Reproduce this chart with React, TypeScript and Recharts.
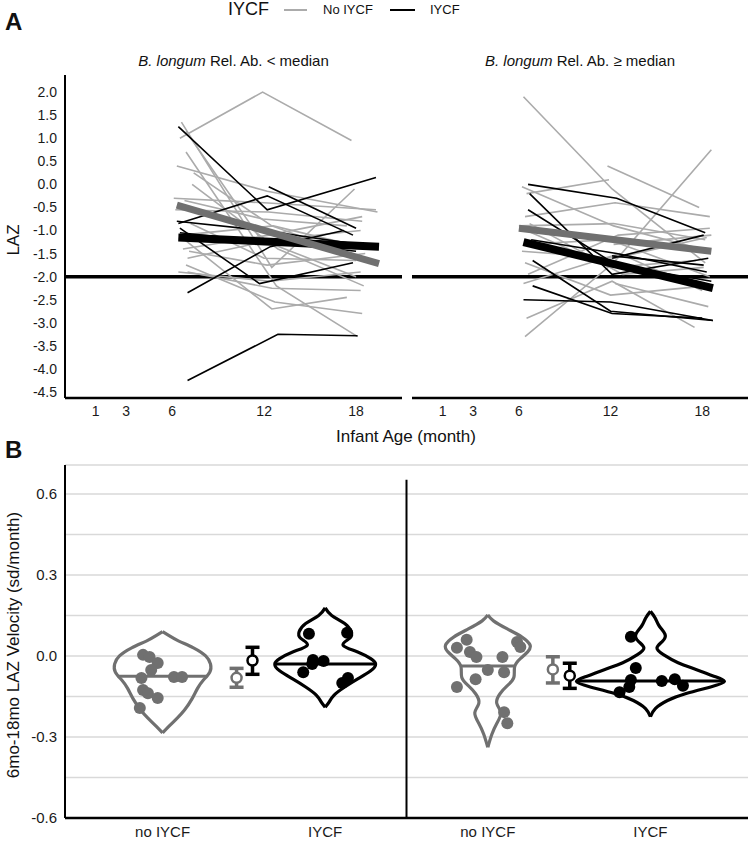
import { CartesianGrid, ComposedChart, ErrorBar, Line, LineChart, ReferenceLine, Scatter, XAxis, YAxis } from 'recharts'

type Pt = [number, number]

// ---- panel A: LAZ trajectories (month, LAZ) ----
const ageTicks = [1, 3, 6, 12, 18]
const lazTicks = [2, 1.5, 1, 0.5, 0, -0.5, -1, -1.5, -2, -2.5, -3, -3.5, -4, -4.5]

const lowNoIycf: Pt[][] = [
  [[6.5, 1.0], [11.9, 2.0], [17.7, 0.95]],
  [[6.6, 1.35], [12.5, -1.8], [17.9, -0.1]],
  [[6.3, 0.4], [12.2, -0.15], [19.4, -0.6]],
  [[6.1, -0.3], [12.0, -0.4], [19.3, -0.55]],
  [[7.4, 0.25], [12.5, -0.9], [17.5, -1.5]],
  [[6.9, 1.15], [11.8, -1.2], [18.0, -2.0]],
  [[6.2, -0.55], [12.3, -0.6], [18.4, -0.8]],
  [[6.7, -1.4], [12.3, -1.1], [18.4, -0.7]],
  [[7.0, -1.6], [12.6, -1.2], [18.3, -1.0]],
  [[6.4, -1.9], [12.4, -2.1], [18.3, -1.9]],
  [[7.0, -1.9], [12.5, -2.25], [18.3, -2.3]],
  [[6.8, -1.2], [12.5, -2.7], [17.4, -2.45]],
  [[6.9, 0.7], [12.8, -2.2], [18.1, -3.3]],
  [[7.2, -0.85], [12.0, -1.6], [18.0, -1.65]],
  [[6.6, -1.1], [12.6, -0.9], [18.2, -1.35]],
  [[7.3, 0.0], [12.9, -1.4], [18.5, -2.2]],
  [[6.8, -0.35], [11.9, -0.75], [17.4, -0.9]],
  [[7.1, -1.45], [12.2, -1.75], [18.6, -1.5]],
  [[6.9, -1.75], [12.7, -2.55], [18.4, -2.8]],
]
const lowIycf: Pt[][] = [
  [[6.4, 1.25], [12.2, -0.55], [19.3, 0.15]],
  [[6.4, -0.85], [12.2, -0.25], [17.8, -1.1]],
  [[12.3, -0.05], [18.0, -0.95]],
  [[6.3, -0.8], [12.0, -1.0], [18.1, -1.3]],
  [[6.5, -0.95], [11.7, -2.15], [17.8, -1.7]],
  [[7.0, -2.35], [12.4, -1.35], [17.2, -1.0]],
  [[7.0, -4.25], [12.9, -3.25], [18.1, -3.28]],
  [[6.5, -1.05], [12.4, -1.25], [18.0, -1.45]],
]
const lowFitNoIycf: Pt[] = [[6.3, -0.45], [19.5, -1.72]]
const lowFitIycf: Pt[] = [[6.4, -1.15], [19.5, -1.35]]

const highNoIycf: Pt[][] = [
  [[6.3, 1.9], [12.1, -0.1], [18.2, -1.7]],
  [[11.8, 0.4], [17.8, -0.5]],
  [[6.4, -3.3], [12.2, -1.7], [18.6, 0.75]],
  [[6.5, -0.2], [11.9, 0.1]],
  [[6.2, -0.05], [12.2, -0.9], [18.5, -1.45]],
  [[6.4, -0.7], [12.3, -0.4], [18.5, -0.7]],
  [[6.0, -0.9], [12.2, -0.85], [18.2, -1.2]],
  [[6.5, -1.0], [12.0, -1.8], [17.6, -1.65]],
  [[6.2, -1.45], [12.3, -1.6], [18.3, -1.15]],
  [[6.3, -1.3], [11.9, -1.2], [18.5, -2.0]],
  [[6.5, -2.9], [12.1, -2.1], [17.5, -3.1]],
  [[12.3, -2.15], [18.4, -2.65]],
  [[6.3, -2.15], [12.6, -1.5], [18.0, -2.3]],
  [[6.7, -0.85], [12.8, -1.95], [18.1, -1.8]],
  [[6.4, -1.7], [12.0, -2.4], [18.3, -2.2]],
  [[12.2, -1.3], [18.6, -1.1]],
  [[6.6, -1.95], [12.5, -1.1], [18.5, -0.95]],
]
const highIycf: Pt[][] = [
  [[6.6, 0.0], [12.4, -0.3], [18.2, -1.05]],
  [[6.7, -0.2], [12.1, -1.95], [18.4, -1.6]],
  [[6.6, -0.55], [12.4, -1.75], [18.6, -2.1]],
  [[6.9, -1.65], [12.0, -2.75], [18.7, -2.95]],
  [[6.9, -2.2], [12.1, -2.8], [18.0, -2.9]],
  [[6.3, -2.5], [12.0, -2.55], [18.7, -2.95]],
  [[12.1, -1.6], [18.1, -1.1]],
  [[12.1, -1.55], [18.1, -1.75]],
  [[6.8, -1.2], [12.4, -1.5], [18.3, -1.9]],
]
const highFitNoIycf: Pt[] = [[6.0, -0.95], [18.6, -1.45]]
const highFitIycf: Pt[] = [[6.3, -1.25], [18.7, -2.25]]

// ---- panel B: velocity violins ----
const groupLabels = ['no IYCF', 'IYCF', 'no IYCF', 'IYCF']
const velocityTicks = [-0.6, -0.45, -0.3, -0.15, 0, 0.15, 0.3, 0.45, 0.6]

// [velocity, half width in group units]
const violinLowNoIycf: Pt[] = [
  [0.09, 0], [0.075, 0.04], [0.055, 0.1], [0.03, 0.19], [0.0, 0.265], [-0.03, 0.295], [-0.06, 0.29],
  [-0.09, 0.25], [-0.12, 0.215], [-0.16, 0.18], [-0.2, 0.135], [-0.23, 0.09], [-0.26, 0.04], [-0.285, 0],
]
const violinLowIycf: Pt[] = [
  [0.178, 0], [0.15, 0.04], [0.12, 0.12], [0.09, 0.16], [0.065, 0.15], [0.04, 0.11], [0.015, 0.2],
  [-0.01, 0.28], [-0.03, 0.31], [-0.055, 0.28], [-0.085, 0.2], [-0.115, 0.12], [-0.145, 0.055],
  [-0.17, 0.025], [-0.19, 0],
]
const violinHighNoIycf: Pt[] = [
  [0.152, 0], [0.13, 0.035], [0.1, 0.12], [0.07, 0.21], [0.04, 0.26], [0.015, 0.245], [-0.01, 0.2],
  [-0.04, 0.165], [-0.08, 0.16], [-0.11, 0.12], [-0.14, 0.075], [-0.175, 0.055], [-0.21, 0.08],
  [-0.25, 0.055], [-0.29, 0.025], [-0.338, 0],
]
const violinHighIycf: Pt[] = [
  [0.165, 0], [0.14, 0.03], [0.11, 0.055], [0.08, 0.09], [0.055, 0.075], [0.03, 0.04], [0.005, 0.08],
  [-0.025, 0.17], [-0.05, 0.28], [-0.075, 0.39], [-0.095, 0.455], [-0.115, 0.37], [-0.14, 0.215],
  [-0.165, 0.105], [-0.195, 0.03], [-0.225, 0],
]
const medians = [-0.075, -0.03, -0.037, -0.093]
const medianHalfWidths = [0.27, 0.31, 0.165, 0.455]

// [offset from group centre, velocity]
const dotsLowNoIycf: Pt[] = [
  [-0.12, 0.004], [-0.08, -0.004], [-0.03, -0.026], [-0.07, -0.052], [-0.13, -0.082], [0.07, -0.078],
  [0.12, -0.078], [-0.12, -0.126], [-0.09, -0.138], [-0.03, -0.156], [-0.14, -0.193],
]
const dotsLowIycf: Pt[] = [
  [-0.1, 0.082], [0.135, 0.086], [-0.075, -0.015], [-0.01, -0.019], [-0.08, -0.03], [-0.135, -0.06],
  [0.14, -0.082], [0.105, -0.1],
]
const dotsHighNoIycf: Pt[] = [
  [-0.13, 0.06], [-0.19, 0.03], [0.18, 0.052], [0.2, 0.033], [-0.11, 0.015], [-0.07, -0.004],
  [0.09, -0.004], [0.0, -0.052], [0.1, -0.06], [-0.075, -0.086], [-0.19, -0.115], [0.1, -0.208],
  [0.12, -0.249],
]
const dotsHighIycf: Pt[] = [
  [-0.12, 0.071], [-0.09, -0.045], [-0.12, -0.089], [-0.13, -0.115], [-0.19, -0.134], [0.07, -0.093],
  [0.15, -0.086], [0.2, -0.11],
]

// mean and CI markers
const meanPos = [1.455, 1.553, 3.4, 3.504]
const means = [-0.081, -0.017, -0.05, -0.073]
const ciLow = [-0.116, -0.068, -0.1, -0.12]
const ciHigh = [-0.046, 0.032, -0.003, -0.027]

const GREY_LINE = '#ababab'
const GREY_DARK = '#707070'
const FONT = '"Liberation Sans", Arial, Helvetica, sans-serif'
const TICK = { fill: '#1a1a1a', fontSize: 14, fontFamily: FONT }

const rows = (s: Pt[]) => s.map(([month, laz]) => ({ month, laz }))

function TrajectoryPanel({
  noIycf,
  iycf,
  fitNo,
  fitYes,
  width,
  left,
  showTicks,
}: {
  noIycf: Pt[][]
  iycf: Pt[][]
  fitNo: Pt[]
  fitYes: Pt[]
  width: number
  left: number
  showTicks: boolean
}) {
  return (
    <LineChart width={width} height={440} margin={{ top: 75, right: showTicks ? 0 : 2, bottom: 12, left }}>
      <XAxis
        type="number"
        dataKey="month"
        domain={[-1, 21]}
        ticks={ageTicks}
        allowDataOverflow
        height={30}
        tickLine={false}
        axisLine={{ stroke: '#000', strokeWidth: 2.5 }}
        tick={TICK}
      />
      <YAxis
        type="number"
        domain={[-4.63, 2.37]}
        ticks={lazTicks}
        allowDataOverflow
        width={showTicks ? 45 : 0}
        tick={showTicks ? TICK : false}
        tickLine={false}
        tickFormatter={(v: number) => v.toFixed(1)}
        axisLine={{ stroke: '#000', strokeWidth: 2 }}
      />
      <ReferenceLine y={-2} stroke="#000" strokeWidth={3.5} />
      {noIycf.map((s, i) => (
        <Line
          key={'n' + i}
          data={rows(s)}
          dataKey="laz"
          stroke={GREY_LINE}
          strokeWidth={1.6}
          dot={false}
          isAnimationActive={false}
        />
      ))}
      {iycf.map((s, i) => (
        <Line
          key={'y' + i}
          data={rows(s)}
          dataKey="laz"
          stroke="#000"
          strokeWidth={1.6}
          dot={false}
          isAnimationActive={false}
        />
      ))}
      <Line data={rows(fitYes)} dataKey="laz" stroke="#000" strokeWidth={8} dot={false} isAnimationActive={false} />
      <Line data={rows(fitNo)} dataKey="laz" stroke={GREY_DARK} strokeWidth={7} dot={false} isAnimationActive={false} />
    </LineChart>
  )
}

const noShape = () => <g />

export default function App() {
  const violins = [
    { centre: 1, profile: violinLowNoIycf, dots: dotsLowNoIycf, color: GREY_DARK },
    { centre: 2, profile: violinLowIycf, dots: dotsLowIycf, color: '#000' },
    { centre: 3, profile: violinHighNoIycf, dots: dotsHighNoIycf, color: GREY_DARK },
    { centre: 4, profile: violinHighIycf, dots: dotsHighIycf, color: '#000' },
  ]
  const meanColors = [GREY_DARK, '#000', GREY_DARK, '#000']

  return (
    <div style={{ position: 'absolute', left: 0, top: 0, width: 750, height: 842, fontFamily: FONT, color: '#111' }}>
      {/* panel letters and legend */}
      <div style={{ position: 'absolute', left: 5, top: 8, fontSize: 24, fontWeight: 'bold' }}>A</div>
      <div style={{ position: 'absolute', left: 5, top: 436, fontSize: 24, fontWeight: 'bold' }}>B</div>
      <div style={{ position: 'absolute', left: 228, top: -1, fontSize: 18 }}>IYCF</div>
      <div style={{ position: 'absolute', left: 284, top: 9, width: 23, height: 2, background: GREY_LINE }} />
      <div style={{ position: 'absolute', left: 323, top: 2, fontSize: 13 }}>No IYCF</div>
      <div style={{ position: 'absolute', left: 390, top: 9, width: 25, height: 2, background: '#000' }} />
      <div style={{ position: 'absolute', left: 430, top: 2, fontSize: 13 }}>IYCF</div>

      <div style={{ position: 'absolute', left: 65, width: 337, top: 52, fontSize: 15, textAlign: 'center' }}>
        <i>B. longum</i> Rel. Ab. &lt; median
      </div>
      <div style={{ position: 'absolute', left: 412, width: 336, top: 52, fontSize: 15, textAlign: 'center' }}>
        <i>B. longum</i> Rel. Ab. ≥ median
      </div>

      <div style={{ position: 'absolute', left: 0, top: 0 }}>
        <TrajectoryPanel noIycf={lowNoIycf} iycf={lowIycf} fitNo={lowFitNoIycf} fitYes={lowFitIycf} width={402} left={20} showTicks />
      </div>
      <div style={{ position: 'absolute', left: 402, top: 0 }}>
        <TrajectoryPanel noIycf={highNoIycf} iycf={highIycf} fitNo={highFitNoIycf} fitYes={highFitIycf} width={348} left={10} showTicks={false} />
      </div>

      <div
        style={{
          position: 'absolute',
          left: 14,
          top: 240,
          fontSize: 17,
          transform: 'translate(-50%, -50%) rotate(-90deg)',
          whiteSpace: 'nowrap',
        }}
      >
        LAZ
      </div>
      <div style={{ position: 'absolute', left: 406, top: 437, fontSize: 17, transform: 'translate(-50%, -50%)', whiteSpace: 'nowrap' }}>
        Infant Age (month)
      </div>

      {/* panel B */}
      <div style={{ position: 'absolute', left: 0, top: 440 }}>
        <ComposedChart width={750} height={402} margin={{ top: 25, right: 2, bottom: 0, left: 15 }}>
          <CartesianGrid vertical={false} stroke="#d9d9d9" strokeWidth={1.5} />
          <XAxis
            type="number"
            dataKey="x"
            domain={[0.4, 4.6]}
            ticks={[1, 2, 3, 4]}
            allowDataOverflow
            height={24}
            tickLine={false}
            axisLine={{ stroke: '#000', strokeWidth: 2.5 }}
            tick={{ ...TICK, fontSize: 15 }}
            tickFormatter={(v: number) => groupLabels[Math.round(v) - 1] ?? ''}
          />
          <YAxis
            type="number"
            dataKey="y"
            domain={[-0.6, 0.707]}
            ticks={velocityTicks}
            allowDataOverflow
            width={50}
            tickLine={false}
            axisLine={{ stroke: '#000', strokeWidth: 2 }}
            tick={{ ...TICK, fontSize: 15 }}
            tickFormatter={(v: number) => (Math.abs(Math.round(v / 0.3) * 0.3 - v) < 1e-6 ? v.toFixed(1) : '')}
          />
          <ReferenceLine
            segment={[
              { x: 2.5, y: 0.652 },
              { x: 2.5, y: -0.6 },
            ]}
            stroke="#000"
            strokeWidth={2}
          />
          {violins.map((v, i) =>
            [1, -1].map((sign) => (
              <Scatter
                key={'v' + i + sign}
                data={v.profile.map(([y, w]) => ({ x: v.centre + sign * w, y }))}
                line={{ stroke: v.color, strokeWidth: 3.2 }}
                lineJointType="natural"
                shape={noShape}
                isAnimationActive={false}
              />
            )),
          )}
          {violins.map((v, i) => (
            <Scatter
              key={'m' + i}
              data={[
                { x: v.centre - medianHalfWidths[i], y: medians[i] },
                { x: v.centre + medianHalfWidths[i], y: medians[i] },
              ]}
              line={{ stroke: v.color, strokeWidth: 3 }}
              shape={noShape}
              isAnimationActive={false}
            />
          ))}
          {violins.map((v, i) => (
            <Scatter
              key={'d' + i}
              data={v.dots.map(([dx, y]) => ({ x: v.centre + dx, y }))}
              shape={(p: any) => <circle cx={p.cx} cy={p.cy} r={6} fill={v.color} />}
              isAnimationActive={false}
            />
          ))}
          {meanPos.map((x, i) => (
            <Scatter
              key={'e' + i}
              data={[{ x, y: means[i], err: [means[i] - ciLow[i], ciHigh[i] - means[i]] }]}
              shape={(p: any) => (
                <circle cx={p.cx} cy={p.cy} r={5} fill="#fff" stroke={meanColors[i]} strokeWidth={2.5} />
              )}
              isAnimationActive={false}
            >
              <ErrorBar dataKey="err" direction="y" width={7} stroke={meanColors[i]} strokeWidth={3.5} />
            </Scatter>
          ))}
        </ComposedChart>
      </div>
      <div
        style={{
          position: 'absolute',
          left: 14,
          top: 645,
          fontSize: 17,
          transform: 'translate(-50%, -50%) rotate(-90deg)',
          whiteSpace: 'nowrap',
        }}
      >
        6mo-18mo LAZ Velocity (sd/month)
      </div>
    </div>
  )
}
